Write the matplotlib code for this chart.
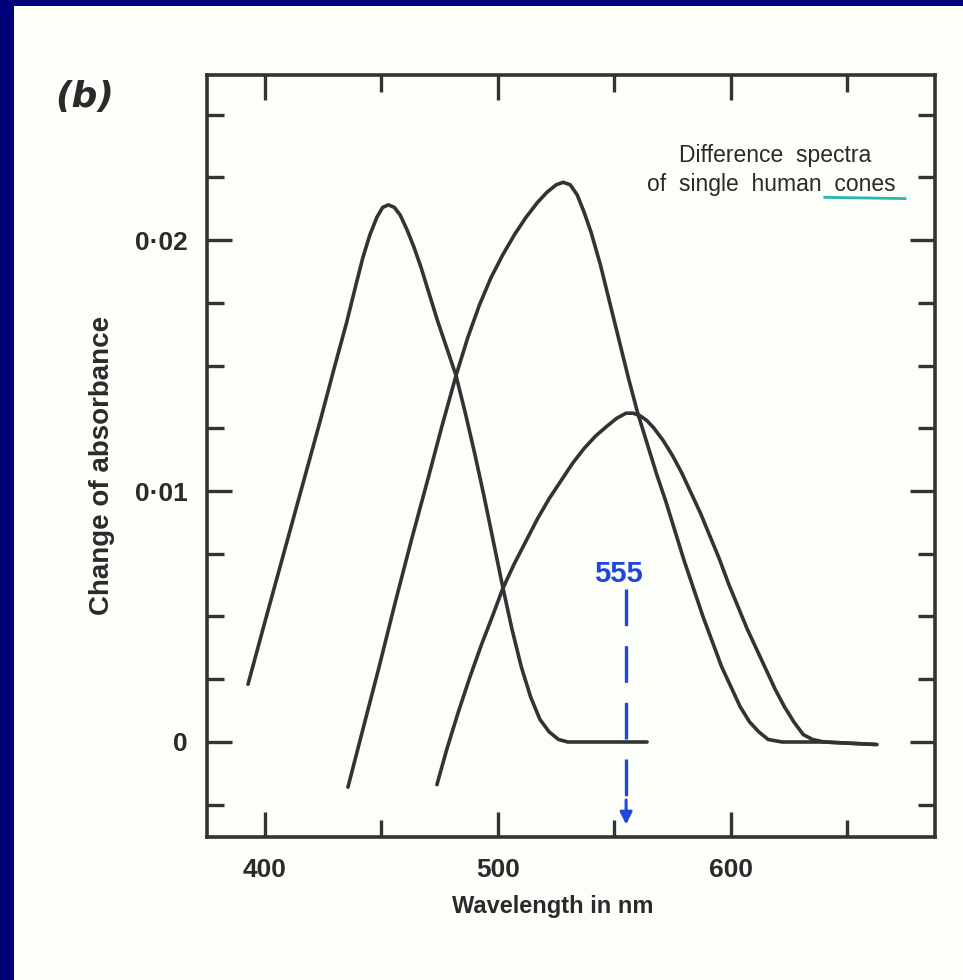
import matplotlib
matplotlib.use("Agg")
import matplotlib.pyplot as plt
from matplotlib.patches import Rectangle
from matplotlib.ticker import FixedLocator, NullFormatter

# ---------------- data ----------------
s_wl = [392.7, 400, 408, 416, 424, 430, 435, 439, 442, 445, 448, 450.5, 453, 455.5, 458,
        461, 464, 467, 470, 474, 478, 482, 486, 490, 494, 498, 502, 506, 510, 514, 518,
        522, 526, 530, 564]
s_val = [0.0023, 0.0048, 0.0075, 0.0102, 0.0129, 0.0150, 0.0167, 0.0182, 0.0193, 0.0202,
         0.0209, 0.0213, 0.0214, 0.0213, 0.0210, 0.0204, 0.0197, 0.0189, 0.0180, 0.0168,
         0.0157, 0.0146, 0.0131, 0.0115, 0.0098, 0.0080, 0.0062, 0.0045, 0.0030, 0.0018,
         0.0009, 0.0004, 0.0001, 0.0, 0.0]

m_wl = [435.6, 442, 449, 456, 463, 470, 476, 482, 487, 492, 497, 502, 507, 512, 517, 521,
        525, 528, 531, 534, 537, 540, 544, 548, 552, 556, 560, 564, 568, 572, 576, 580,
        584, 588, 592, 596, 600, 604, 608, 612, 616, 622, 640, 662]
m_val = [-0.0018, 0.0005, 0.0030, 0.0056, 0.0081, 0.0105, 0.0126, 0.0146, 0.0161, 0.0174,
         0.0185, 0.0194, 0.0202, 0.0209, 0.0215, 0.0219, 0.0222, 0.0223, 0.0222, 0.0218,
         0.0211, 0.0203, 0.0190, 0.0175, 0.0160, 0.0145, 0.0131, 0.0119, 0.0107, 0.0096,
         0.0084, 0.0072, 0.0061, 0.0050, 0.0040, 0.0030, 0.0022, 0.0014, 0.0008, 0.0004,
         0.0001, 0.0, 0.0, -0.0001]

l_wl = [473.8, 478, 483, 488, 493, 498, 502, 507, 512, 517, 522, 527, 532, 537, 542, 547,
        551, 555, 558, 561, 564, 567, 571, 575, 579, 583, 587, 591, 595, 599, 603, 607,
        611, 615, 619, 623, 627, 631, 635, 640, 662.7]
l_val = [-0.0017, -0.0003, 0.0012, 0.0026, 0.0039, 0.0051, 0.0061, 0.0071, 0.0080, 0.0089,
         0.0097, 0.0104, 0.0111, 0.0117, 0.0122, 0.0126, 0.0129, 0.0131, 0.0131, 0.0130,
         0.0128, 0.0125, 0.0120, 0.0114, 0.0107, 0.0099, 0.0091, 0.0082, 0.0073, 0.0063,
         0.0054, 0.0045, 0.0037, 0.0029, 0.0021, 0.0014, 0.0008, 0.0003, 0.0001, 0.0,
         -0.0001]

marker_wl = 555
marker_top = 0.0061
marker_bottom = -0.0034

x_major = [400, 500, 600]
x_major_labels = ["400", "500", "600"]
x_minor = [450, 550, 650]
y_major = [0.0, 0.01, 0.02]
y_major_labels = ["0", "0\u00b701", "0\u00b702"]
y_minor = [-0.0025, 0.0025, 0.005, 0.0075, 0.0125, 0.015, 0.0175, 0.0225, 0.025]

# ---------------- figure ----------------
W, H = 963, 980
fig = plt.figure(figsize=(W / 100, H / 100), dpi=100)
fig.patch.set_facecolor("#00007a")
fig.add_artist(Rectangle((14 / W, 0), 1 - 14 / W, 1 - 6 / H, transform=fig.transFigure,
                         facecolor="#fcfef9", edgecolor="none", zorder=0))

ax = fig.add_axes([207 / W, 1 - 837 / H, (935 - 207) / W, (837 - 75) / H])
ax.set_facecolor("#fcfef9")
ax.set_xlim(375.1, 687.6)
ax.set_ylim(-0.003785, 0.026574)

ink = "#333333"
text_ink = "#2a2a2a"
for wl, val in ((s_wl, s_val), (m_wl, m_val), (l_wl, l_val)):
    ax.plot(wl, val, color=ink, lw=2.6, solid_capstyle="round", solid_joinstyle="round")

for sp in ax.spines.values():
    sp.set_linewidth(2.6)
    sp.set_color(ink)

ax.xaxis.set_major_locator(FixedLocator(x_major))
ax.xaxis.set_minor_locator(FixedLocator(x_minor))
ax.set_xticklabels(x_major_labels)
ax.yaxis.set_major_locator(FixedLocator(y_major))
ax.yaxis.set_minor_locator(FixedLocator(y_minor))
ax.set_yticklabels(y_major_labels)
ax.xaxis.set_minor_formatter(NullFormatter())
ax.yaxis.set_minor_formatter(NullFormatter())

ax.tick_params(which="both", direction="in", top=True, right=True, color=ink, width=2.4)
ax.tick_params(which="major", length=18, labelsize=19, labelcolor=text_ink)
ax.tick_params(which="minor", length=12)
ax.tick_params(axis="x", which="major", pad=15)
ax.tick_params(axis="y", which="major", pad=14)
for lab in ax.get_xticklabels() + ax.get_yticklabels():
    lab.set_fontweight("bold")
    lab.set_family("Liberation Sans")

ax.set_xlabel("Wavelength in nm", fontsize=17, fontweight="bold", color=text_ink,
              family="Liberation Sans")
ax.xaxis.set_label_coords(0.475, -0.076)
ax.set_ylabel("Change of absorbance", fontsize=20, fontweight="bold", color=text_ink,
              family="Liberation Sans")
ax.yaxis.set_label_coords(-0.127, 0.488)

# annotation text
ax.text(619.0, 0.02335, "Difference  spectra", fontsize=16.5, color=text_ink,
        family="Liberation Sans", ha="center", va="center")
ax.text(617.5, 0.0222, "of  single  human  cones", fontsize=16.5, color=text_ink,
        family="Liberation Sans", ha="center", va="center")
ax.plot([640.3, 674.7], [0.02170, 0.02165], color="#27b7b0", lw=2.0)

# 555 marker
ax.text(551.5, 0.0067, "555", fontsize=21, color="#1f47e0", fontweight="bold",
        family="Liberation Sans", ha="center", va="center")
ax.plot([marker_wl, marker_wl], [marker_top, marker_bottom + 0.0004], color="#1f47e0",
        lw=2.4, dashes=(11, 6))
ax.annotate("", xy=(marker_wl, marker_bottom), xytext=(marker_wl, marker_bottom + 0.0012),
            arrowprops=dict(arrowstyle="-|>", color="#1f47e0", lw=2.2, mutation_scale=18))

fig.text(85 / W, 1 - 97 / H, "(b)", fontsize=26, style="italic", fontweight="bold",
         color=text_ink, family="DejaVu Sans", ha="center", va="center")

fig.savefig("out.png", dpi=100, facecolor=fig.get_facecolor())
